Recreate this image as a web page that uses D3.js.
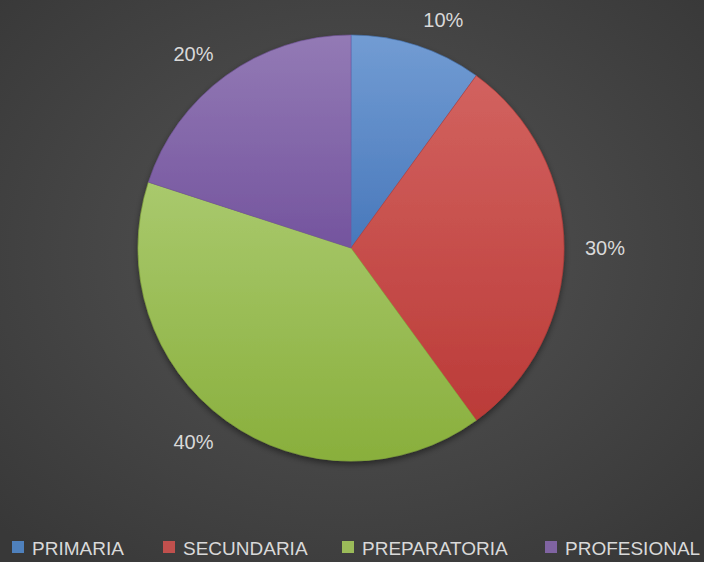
<!DOCTYPE html>
<meta charset="utf-8">
<style>
  html, body { margin: 0; padding: 0; background: #3c3c3c; }
  svg { display: block; }
  text { font-family: "Liberation Sans", Arial, sans-serif; fill: #d9d9d9; }
</style>
<svg id="chart" width="704" height="562"></svg>
<script src="https://cdn.jsdelivr.net/npm/d3@7/dist/d3.min.js"></script>
<script>
// data
var categories = ["PRIMARIA", "SECUNDARIA", "PREPARATORIA", "PROFESIONAL"];
var values = [10, 30, 40, 20];
var topColors = ["#729cd3", "#d2625f", "#a9c96d", "#937ab5"];
var bottomColors = ["#4878bb", "#bb3b38", "#89af3c", "#74549e"];
var swatches = ["#4f81bd", "#c0504d", "#9bbb59", "#8064a2"];

var width = 704, height = 562;
var cx = 351, cy = 248, r = 213;

var svg = d3.select("#chart");
var defs = svg.append("defs");

// background: dark radial gradient, a bit lighter in the middle
var bg = defs.append("radialGradient").attr("id", "bg")
    .attr("cx", "50%").attr("cy", "45%").attr("r", "70%");
bg.append("stop").attr("offset", "0%").attr("stop-color", "#555555");
bg.append("stop").attr("offset", "100%").attr("stop-color", "#383838");
svg.append("rect").attr("width", width).attr("height", height).attr("fill", "url(#bg)");

var shadow = defs.append("filter").attr("id", "shadow")
    .attr("x", "-10%").attr("y", "-10%").attr("width", "120%").attr("height", "120%");
shadow.append("feDropShadow").attr("dx", 0).attr("dy", 3).attr("stdDeviation", 3)
    .attr("flood-color", "#000").attr("flood-opacity", 0.45);

// each slice gets its own top-to-bottom gradient
categories.forEach(function (c, i) {
    var g = defs.append("linearGradient").attr("id", "grad" + i)
        .attr("x1", 0).attr("y1", 0).attr("x2", 0).attr("y2", 1);
    g.append("stop").attr("offset", "0%").attr("stop-color", topColors[i]);
    g.append("stop").attr("offset", "100%").attr("stop-color", bottomColors[i]);
});

var pie = d3.pie().sort(null).value(function (d) { return d; });
var arcs = pie(values);
var arc = d3.arc().innerRadius(0).outerRadius(r);

var g = svg.append("g").attr("transform", "translate(" + cx + "," + cy + ")");

g.append("g").attr("filter", "url(#shadow)")
  .selectAll("path")
  .data(arcs)
  .join("path")
    .attr("d", arc)
    .attr("fill", function (d, i) { return "url(#grad" + i + ")"; })
    .attr("stroke", function (d, i) { return bottomColors[i]; })
    .attr("stroke-width", 0.6);

// percentage labels, outside end
var total = d3.sum(values);
var labelR = 234;
g.selectAll("text.lbl")
  .data(arcs)
  .join("text")
    .attr("class", "lbl")
    .each(function (d) {
        var a = (d.startAngle + d.endAngle) / 2;
        var s = Math.sin(a), c = Math.cos(a);
        d3.select(this)
          .attr("x", s * labelR)
          .attr("y", -c * labelR - c * 6)
          .attr("text-anchor", s > 0.05 ? "start" : (s < -0.05 ? "end" : "middle"));
    })
    .attr("dy", "0.35em")
    .style("font-size", "20px")
    .text(function (d) { return Math.round(d.data / total * 100) + "%"; });

// legend
var legendX = [12, 163, 342, 545];
var legend = svg.append("g").attr("transform", "translate(0,541)");
var items = legend.selectAll("g")
  .data(categories)
  .join("g")
    .attr("transform", function (d, i) { return "translate(" + legendX[i] + ",0)"; });
items.append("rect")
    .attr("width", 12).attr("height", 12)
    .attr("fill", function (d, i) { return swatches[i]; });
items.append("text")
    .attr("x", 20).attr("y", 13.5)
    .style("font-size", "19px")
    .text(function (d) { return d; });
</script>
